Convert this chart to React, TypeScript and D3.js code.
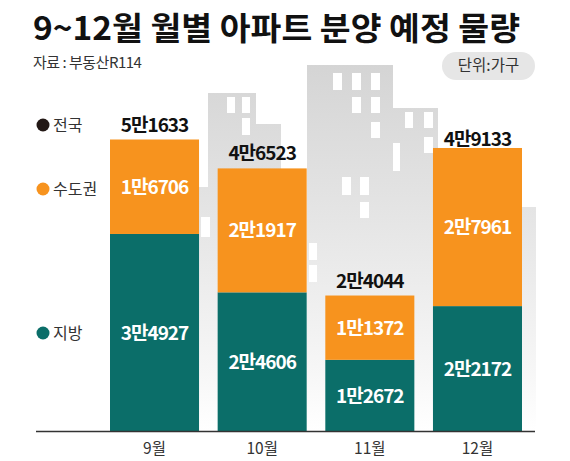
import * as d3 from "d3";

const months = ["9월", "10월", "11월", "12월"];
const metro = [16706, 21917, 11372, 27961];
const local = [34927, 24606, 12672, 22172];
const total = [51633, 46523, 24044, 49133];

const legendItems = [
  { name: "전국", color: "#231815" },
  { name: "수도권", color: "#f7931e" },
  { name: "지방", color: "#0b6e69" },
];

// background skyline (decoration only)
const buildings = [
  { x: 199, y: 187, w: 12, h: 244 },
  { x: 208, y: 93, w: 48, h: 338 },
  { x: 255, y: 124, w: 26, h: 307 },
  { x: 307, y: 65, w: 86, h: 366 },
  { x: 392, y: 108, w: 46, h: 323 },
  { x: 522, y: 207, w: 14, h: 224 },
];
const windows = [
  { x: 227, y: 97, w: 8, h: 16 }, { x: 242, y: 97, w: 8, h: 16 }, { x: 242, y: 118, w: 8, h: 17 },
  { x: 201, y: 217, w: 9, h: 20 },
  { x: 333, y: 73, w: 9, h: 17 }, { x: 352, y: 73, w: 9, h: 17 }, { x: 371, y: 73, w: 9, h: 17 },
  { x: 352, y: 97, w: 9, h: 16 }, { x: 371, y: 97, w: 9, h: 16 }, { x: 371, y: 122, w: 9, h: 16 },
  { x: 342, y: 177, w: 9, h: 18 }, { x: 360, y: 177, w: 9, h: 18 }, { x: 360, y: 202, w: 9, h: 16 },
  { x: 393, y: 143, w: 7, h: 28 },
  { x: 405, y: 112, w: 8, h: 16 }, { x: 424, y: 112, w: 9, h: 16 }, { x: 424, y: 137, w: 9, h: 16 },
  { x: 309, y: 243, w: 8, h: 17 }, { x: 309, y: 265, w: 8, h: 17 },
];

const fmt = (n: number) => `${Math.floor(n / 10000)}만${String(n % 10000).padStart(4, "0")}`;

export default function App() {
  const width = 570;
  const height = 461;
  const baseY = 431.5;

  const x = d3.scaleBand().domain(months).range([110, 522]).paddingInner(0.173);
  const y = d3.scaleLinear().domain([0, 51633]).range([baseY, 139.5]);

  const rows = months.map((m, i) => ({ m, local: local[i], metro: metro[i], total: total[i] }));
  const stack = d3.stack<any>().keys(["local", "metro"])(rows);
  const colors: Record<string, string> = { local: "#0b6e69", metro: "#f7931e" };

  const font = "'Noto Sans CJK KR', 'Noto Sans', sans-serif";

  return (
    <svg
      width={width}
      height={height}
      style={{ position: "absolute", left: 0, top: 0, background: "#fff", fontFamily: font }}
    >
      <defs>
        <linearGradient id="bg" x1="0" y1="60" x2="0" y2="430" gradientUnits="userSpaceOnUse">
          <stop offset="0" stopColor="#d4d4d4" />
          <stop offset="0.5" stopColor="#e8e8e8" />
          <stop offset="0.85" stopColor="#f7f7f7" />
          <stop offset="1" stopColor="#ffffff" />
        </linearGradient>
      </defs>

      {/* skyline */}
      <g>
        {buildings.map((b, i) => (
          <rect key={i} x={b.x} y={b.y} width={b.w} height={b.h} fill="url(#bg)" />
        ))}
        {windows.map((w, i) => (
          <rect key={i} x={w.x} y={w.y} width={w.w} height={w.h} fill="#fff" />
        ))}
      </g>

      {/* title */}
      <text x={33} y={40} fontSize={32} fontWeight={700} fill="#111" textLength={487} lengthAdjust="spacingAndGlyphs">
        9~12월 월별 아파트 분양 예정 물량
      </text>
      <text x={33} y={68} fontSize={15} fill="#333" letterSpacing={-0.5}>
        자료 : 부동산R114
      </text>
      <rect x={442} y={52} width={93} height={28} rx={14} fill="#e6e6e6" />
      <text x={488.5} y={71} fontSize={15.5} fill="#333" textAnchor="middle">
        단위:가구
      </text>

      {/* legend */}
      {legendItems.map((d, i) => {
        const ly = [125, 189, 333][i];
        return (
          <g key={d.name}>
            <circle cx={43} cy={ly} r={6.5} fill={d.color} />
            <text x={53} y={ly + 6} fontSize={16} fill="#333">
              {d.name}
            </text>
          </g>
        );
      })}

      {/* bars */}
      {stack.map((s) => (
        <g key={s.key}>
          {s.map((d: any) => {
            const bx = x(d.data.m)!;
            const y0 = y(d[0]);
            const y1 = y(d[1]);
            return (
              <g key={d.data.m}>
                <rect x={bx} y={y1} width={x.bandwidth()} height={y0 - y1} fill={colors[s.key]} />
                <text
                  x={bx + x.bandwidth() / 2}
                  y={(y0 + y1) / 2 + 7}
                  textAnchor="middle"
                  fontSize={19}
                  fontWeight={700}
                  fill="#fff"
                  letterSpacing={-1}
                >
                  {fmt(d.data[s.key])}
                </text>
              </g>
            );
          })}
        </g>
      ))}

      {/* totals */}
      {rows.map((r) => (
        <text
          key={r.m}
          x={x(r.m)! + x.bandwidth() / 2}
          y={y(r.total) - 8}
          textAnchor="middle"
          fontSize={19}
          fontWeight={700}
          fill="#111"
          letterSpacing={-1}
        >
          {fmt(r.total)}
        </text>
      ))}

      {/* axis */}
      <line x1={36} x2={535} y1={baseY} y2={baseY} stroke="#333" strokeWidth={1.5} />
      {months.map((m) => (
        <text key={m} x={x(m)! + x.bandwidth() / 2} y={454} textAnchor="middle" fontSize={15.5} fill="#333">
          {m}
        </text>
      ))}
    </svg>
  );
}
